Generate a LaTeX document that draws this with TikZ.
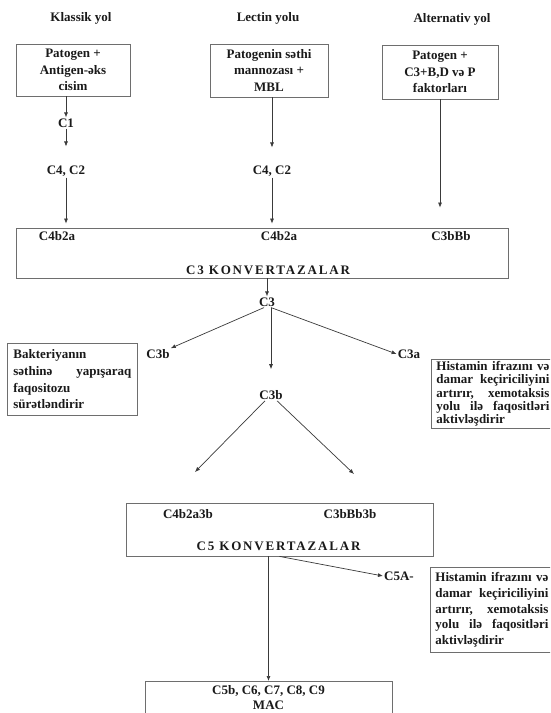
\documentclass[tikz,border=0pt]{standalone}
\usepackage{fontspec}
\setmainfont{Liberation Serif}
\usetikzlibrary{arrows.meta}
\definecolor{boxgray}{HTML}{6E6E6E}
\definecolor{linegray}{HTML}{3A3A3A}
\definecolor{ink}{HTML}{1A1A1A}
\newcommand{\jline}[1]{\makebox[113pt][l]{#1}}
\begin{document}
\begin{tikzpicture}[x=1pt,y=-1pt,
  font=\fontsize{13}{16.5}\selectfont\bfseries,
  text=ink,
  box/.style={draw=boxgray, line width=0.8pt, inner sep=0pt},
  lbl/.style={inner sep=1pt},
  spaced/.style={font=\fontsize{13}{16}\selectfont\bfseries\addfontfeatures{LetterSpace=14}},
  arr/.style={draw=linegray, line width=0.7pt, -{Latex[length=5pt,width=4pt]}},
  ln/.style={draw=linegray, line width=0.7pt}]
\useasboundingbox (0,0) rectangle (550,713);
\clip (0,0) rectangle (550,713);
\fill[white] (0,0) rectangle (550,713);

% headers
\node[lbl] (h1) at (81,18) {Klassik yol};
\node[lbl] (h2) at (268,18) {Lectin yolu};
\node[lbl] (h3) at (452,19) {Alternativ yol};

% top boxes
\node[box, minimum width=114pt, minimum height=52pt, align=center] (b1) at (73,70) {Patogen +\\Antigen-əks\\cisim};
\node[box, minimum width=118pt, minimum height=53pt, align=center] (b2) at (269,70.5) {Patogenin səthi\\mannozası +\\MBL};
\node[box, minimum width=116pt, minimum height=54pt, align=center] (b3) at (440,72) {Patogen +\\C3+B,D və P\\faktorları};

\node[lbl] (c1) at (66,123) {C1};
\node[lbl] (c42a) at (66,171) {C4, C2};
\node[lbl] (c42b) at (272,171) {C4, C2};

% C3 convertase box
\node[box, minimum width=492pt, minimum height=50pt] (cbox) at (262,253) {};
\node[lbl] (k1) at (57,236) {C4b2a};
\node[lbl] (k2) at (279,236) {C4b2a};
\node[lbl] (k3) at (451,236) {C3bBb};
\node[lbl, spaced] (k4) at (268,270) {C3 KONVERTAZALAR};

\draw[arr] (c1 |- b1.south) -- (c1.north);
\draw[arr, shorten >=18pt] (c1.south) -- (c42a.north);
\draw[arr, shorten >=4pt] (c42a.south) -- (c42a |- cbox.north);
\draw[arr, shorten >=17pt] (c42b |- b2.south) -- (c42b.north);
\draw[arr, shorten >=4pt] (c42b.south) -- (c42b |- cbox.north);
\draw[arr, shorten >=20pt] (b3.south) -- (b3.south |- cbox.north);

% C3 split
\node[lbl] (c3) at (267,302) {C3};
\node[lbl] (c3bl) at (158,354) {C3b};
\node[lbl] (c3a) at (409,354) {C3a};
\node[lbl] (c3bm) at (271,395) {C3b};
\draw[arr] (c3 |- cbox.south) -- (c3.north);
\draw[arr] ([xshift=-3pt]c3.south) -- (c3bl.north east);
\draw[arr, shorten >=20pt] (c3bm |- c3.south) -- (c3bm.north);
\draw[arr] ([xshift=4pt]c3.south) -- (c3a.west);

% side boxes
\node[box, anchor=north west, minimum width=130pt, minimum height=72pt, text width=118pt, inner xsep=6pt, align=left, font=\fontsize{13}{16.7}\selectfont\bfseries] (lb) at (7,343)
  {Bakteriyanın\\\makebox[118pt][l]{səthinə\hfill yapışaraq}\\faqositozu\\sürətləndirir};
\node[box, anchor=north west, minimum height=69pt, text width=113pt, inner xsep=5pt, align=left, font=\fontsize{13}{13.4}\selectfont\bfseries] (rb1) at (431,359)
  {\jline{Histamin\hfill ifrazını\hfill və}\\\jline{damar\hfill keçiriciliyini}\\\jline{artırır,\hfill xemotaksis}\\\jline{yolu\hfill ilə\hfill faqositləri}\\aktivləşdirir};

% C3b to C5 convertases
\coordinate (tl) at (195,472);
\coordinate (tr) at (354,474);
\draw[arr] ([xshift=-6pt]c3bm.south) -- (tl);
\draw[arr] ([xshift=6pt]c3bm.south) -- (tr);

\node[box, minimum width=307pt, minimum height=53pt] (c5box) at (279.5,529.5) {};
\node[lbl] (m1) at (188,514) {C4b2a3b};
\node[lbl] (m2) at (350,514) {C3bBb3b};
\node[lbl, spaced] (m3) at (278.5,546) {C5 KONVERTAZALAR};

\node[lbl, anchor=west] (c5a) at (383,576) {C5A-};
\draw[arr] (c5box.south) -- (c5a.west);

\node[box, anchor=north west, minimum height=85pt, text width=113pt, inner xsep=5pt, align=left, font=\fontsize{13}{15.8}\selectfont\bfseries] (rb2) at (430,567)
  {\jline{Histamin\hfill ifrazını\hfill və}\\\jline{damar\hfill keçiriciliyini}\\\jline{artırır,\hfill xemotaksis}\\\jline{yolu\hfill ilə\hfill faqositləri}\\aktivləşdirir};

% MAC
\node[box, anchor=north, minimum width=247pt, minimum height=50pt] (mac) at (268.5,681) {};
\node[lbl, align=center, font=\fontsize{13}{15}\selectfont\bfseries] (mactxt) at (268.5,698) {C5b, C6, C7, C8, C9\\MAC};
\draw[arr] (mac.north |- c5box.south) -- (mac.north);
\end{tikzpicture}
\end{document}
